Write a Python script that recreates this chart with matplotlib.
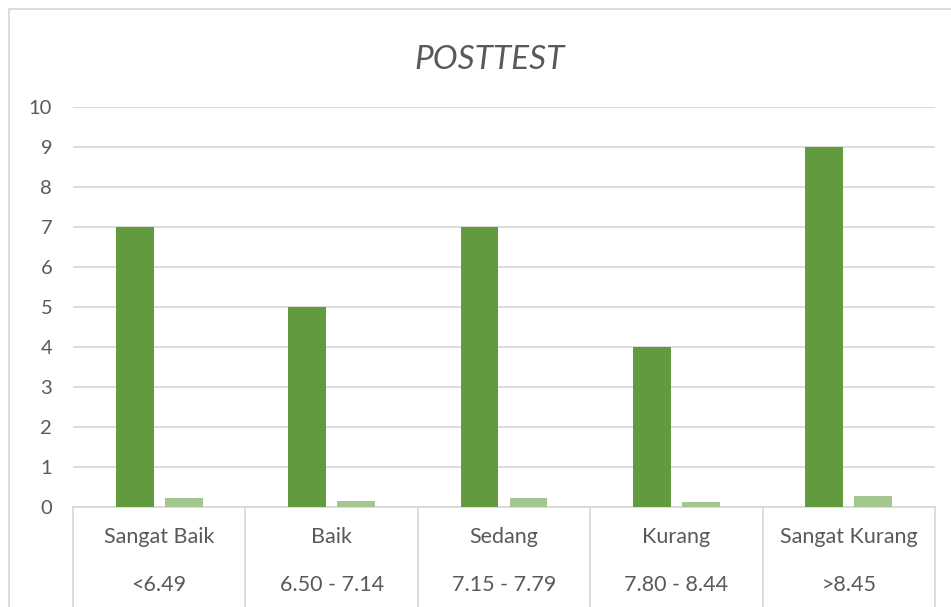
import matplotlib.pyplot as plt
import matplotlib.patches as patches
import numpy as np

# data
categories = ['Sangat Baik', 'Baik', 'Sedang', 'Kurang', 'Sangat Kurang']
ranges = ['<6.49', '6.50 - 7.14', '7.15 - 7.79', '7.80 - 8.44', '>8.45']
counts = [7, 5, 7, 4, 9]
small = [0.22, 0.15, 0.22, 0.12, 0.28]

plt.rcParams['font.family'] = ['Lato', 'DejaVu Sans']
text_col = '#595959'
grid_col = '#D9D9D9'

fig = plt.figure(figsize=(9.51, 6.07), dpi=100)
ax = fig.add_axes([73 / 951, 100 / 607, 862 / 951, 400 / 607])

x = np.arange(len(categories))
w = 0.22
off = 0.142
ax.bar(x - off, counts, w, color='#629B3F', zorder=3)
ax.bar(x + off, small, w, color='#A3C78F', zorder=3)

ax.set_xlim(-0.5, len(categories) - 0.5)
ax.set_ylim(0, 10)
ax.set_yticks(range(0, 11))
ax.yaxis.grid(True, color=grid_col, linewidth=1.3, zorder=0)
ax.tick_params(axis='y', length=0, labelsize=14.5, labelcolor=text_col, pad=15)
ax.set_xticks([])
for s in ['top', 'right', 'left']:
    ax.spines[s].set_visible(False)
ax.spines['bottom'].set_color(grid_col)
ax.spines['bottom'].set_linewidth(1.3)

# two level category axis
trans = ax.get_xaxis_transform()
for b in np.arange(-0.5, len(categories)):
    ax.plot([b, b], [0, -0.3], transform=trans, color=grid_col,
            linewidth=1.3, clip_on=False)
for i in range(len(categories)):
    ax.text(i, -0.075, categories[i], transform=trans, ha='center',
            va='center', fontsize=15.5, color=text_col)
    ax.text(i, -0.195, ranges[i], transform=trans, ha='center',
            va='center', fontsize=15.5, color=text_col)

fig.text(490 / 951, 1 - 60 / 607, 'POSTTEST', ha='center', va='center',
         fontsize=24, style='italic', color=text_col)

# chart border
fig.patches.append(patches.Rectangle((9 / 951, -0.1), 1.2, 1 - 9 / 607 + 0.1,
                                     transform=fig.transFigure, fill=False,
                                     edgecolor=grid_col, linewidth=1.3))

fig.savefig('out.png', dpi=100)
